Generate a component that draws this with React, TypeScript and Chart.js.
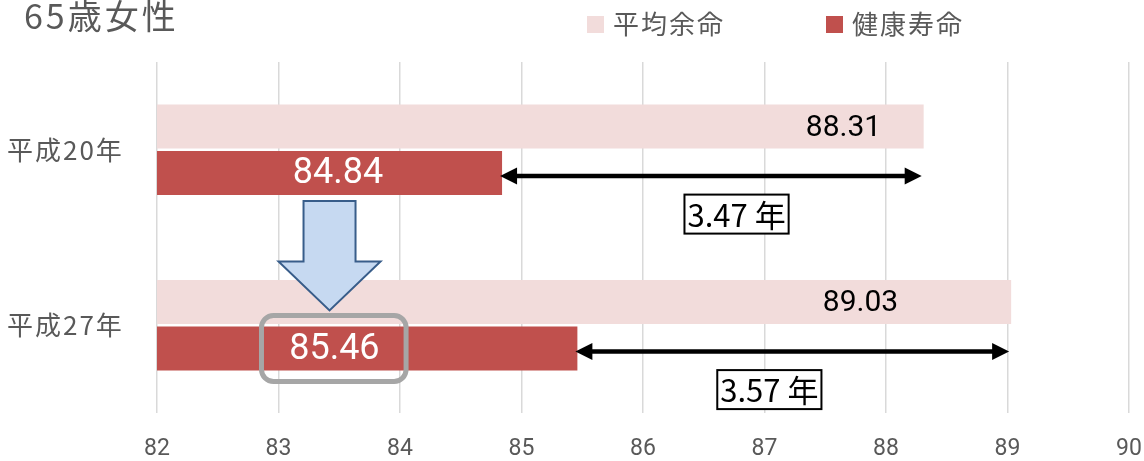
import React, { useEffect, useRef } from 'react';
import { Chart, registerables } from 'chart.js';

Chart.register(...registerables);

const chartTitle = '65歳女性';
const categories = ['平成20年', '平成27年'];
const seriesNames = ['平均余命', '健康寿命'];
const seriesColors = ['#F2DCDB', '#C0504D'];
const lifeExpectancy = [88.31, 89.03];
const healthyLife = [84.84, 85.46];
const gapLabels = ['3.47 年', '3.57 年'];
const xTicks = [82, 83, 84, 85, 86, 87, 88, 89, 90];
// label anchor positions (data units along x)
const lifeLabelX = [87.65, 87.79];
const healthyLabelX = [83.49, 83.46];
const gapLabelX = [86.77, 87.04];
const highlightX = [82.86, 84.05];
const downArrowX = 83.42;

function drawDoubleArrow(ctx: CanvasRenderingContext2D, x1: number, x2: number, y: number) {
  const head = 17;
  const hw = 8.5;
  ctx.save();
  ctx.strokeStyle = '#000';
  ctx.fillStyle = '#000';
  ctx.lineWidth = 4.5;
  ctx.beginPath();
  ctx.moveTo(x1 + head - 2, y);
  ctx.lineTo(x2 - head + 2, y);
  ctx.stroke();
  ctx.beginPath();
  ctx.moveTo(x1, y);
  ctx.lineTo(x1 + head, y - hw);
  ctx.lineTo(x1 + head, y + hw);
  ctx.closePath();
  ctx.fill();
  ctx.beginPath();
  ctx.moveTo(x2, y);
  ctx.lineTo(x2 - head, y - hw);
  ctx.lineTo(x2 - head, y + hw);
  ctx.closePath();
  ctx.fill();
  ctx.restore();
}

const annotPlugin = {
  id: 'annot',
  afterDatasetsDraw(chart: any) {
    const ctx: CanvasRenderingContext2D = chart.ctx;
    const xs = chart.scales.x;
    const ys = chart.scales.y;
    const lightMeta = chart.getDatasetMeta(0);
    const darkMeta = chart.getDatasetMeta(1);

    // title
    ctx.save();
    ctx.fillStyle = '#595959';
    ctx.textBaseline = 'middle';
    ctx.textAlign = 'left';
    ctx.font = '34px "Noto Sans CJK JP"';
    (ctx as any).letterSpacing = '3px';
    ctx.fillText(chartTitle, 24, 16);
    ctx.restore();

    // legend
    const legendX = [587, 826];
    ctx.save();
    ctx.textBaseline = 'middle';
    ctx.textAlign = 'left';
    ctx.font = '26px "Noto Sans CJK JP"';
    (ctx as any).letterSpacing = '2px';
    seriesNames.forEach((name, i) => {
      ctx.fillStyle = seriesColors[i];
      ctx.fillRect(legendX[i], 16, 17, 17);
      ctx.fillStyle = '#595959';
      ctx.fillText(name, legendX[i] + 26, 24);
    });
    ctx.restore();

    // category labels
    ctx.save();
    ctx.textBaseline = 'middle';
    ctx.textAlign = 'left';
    ctx.font = '26px "Noto Sans CJK JP"';
    (ctx as any).letterSpacing = '2px';
    ctx.fillStyle = '#595959';
    categories.forEach((c, i) => {
      ctx.fillText(c, 7, ys.getPixelForValue(i));
    });
    ctx.restore();

    categories.forEach((_, i) => {
      const lightBar = lightMeta.data[i];
      const darkBar = darkMeta.data[i];
      const darkH = darkBar.height;

      // bar value labels
      ctx.save();
      ctx.textAlign = 'center';
      ctx.textBaseline = 'middle';
      ctx.fillStyle = '#000';
      ctx.font = '30px Roboto';
      ctx.fillText(lifeExpectancy[i].toFixed(2), xs.getPixelForValue(lifeLabelX[i]), lightBar.y + 2);
      ctx.fillStyle = '#fff';
      ctx.font = '36px Roboto';
      ctx.fillText(healthyLife[i].toFixed(2), xs.getPixelForValue(healthyLabelX[i]), darkBar.y + 1);
      ctx.restore();

      // double arrow gap
      const ay = darkBar.y + 3;
      drawDoubleArrow(ctx, darkBar.x - 2, xs.getPixelForValue(lifeExpectancy[i]) - 2, ay);

      // gap label box
      ctx.save();
      ctx.font = '31px "Liberation Sans Narrow", "Noto Sans CJK JP"';
      ctx.textAlign = 'center';
      ctx.textBaseline = 'middle';
      const tw = ctx.measureText(gapLabels[i]).width;
      const bw = tw + 6;
      const bh = 39;
      const cx = xs.getPixelForValue(gapLabelX[i]);
      const cy = darkBar.y + darkH / 2 + 19;
      ctx.fillStyle = '#fff';
      ctx.fillRect(cx - bw / 2, cy - bh / 2, bw, bh);
      ctx.strokeStyle = '#000';
      ctx.lineWidth = 2;
      ctx.strokeRect(cx - bw / 2, cy - bh / 2, bw, bh);
      ctx.fillStyle = '#000';
      ctx.fillText(gapLabels[i], cx, cy + 1);
      ctx.restore();
    });

    // big blue down arrow between categories
    const bar0 = darkMeta.data[0];
    const bar1 = darkMeta.data[1];
    const top = bar0.y + bar0.height / 2 + 6;
    const tip = bar1.y - bar1.height / 2 - 16;
    const cx = xs.getPixelForValue(downArrowX);
    const shaftHW = 26;
    const headHW = 51;
    const headBase = tip - 49;
    ctx.save();
    ctx.beginPath();
    ctx.moveTo(cx - shaftHW, top);
    ctx.lineTo(cx + shaftHW, top);
    ctx.lineTo(cx + shaftHW, headBase);
    ctx.lineTo(cx + headHW, headBase);
    ctx.lineTo(cx, tip);
    ctx.lineTo(cx - headHW, headBase);
    ctx.lineTo(cx - shaftHW, headBase);
    ctx.closePath();
    ctx.fillStyle = '#C6D9F1';
    ctx.fill();
    ctx.strokeStyle = '#385D8A';
    ctx.lineWidth = 2;
    ctx.stroke();
    ctx.restore();

    // highlight rounded box around the 2nd healthy label
    const hx1 = xs.getPixelForValue(highlightX[0]);
    const hx2 = xs.getPixelForValue(highlightX[1]);
    const hy1 = bar1.y - bar1.height / 2 - 11;
    const hy2 = bar1.y + bar1.height / 2 + 11;
    ctx.save();
    ctx.strokeStyle = '#A6A6A6';
    ctx.lineWidth = 5;
    ctx.beginPath();
    (ctx as any).roundRect(hx1, hy1, hx2 - hx1, hy2 - hy1, 12);
    ctx.stroke();
    ctx.restore();
  },
};

export default function App() {
  const ref = useRef<HTMLCanvasElement>(null);
  useEffect(() => {
    document.body.style.margin = '0';
    const chart = new Chart(ref.current!, {
      type: 'bar',
      data: {
        labels: categories,
        datasets: [
          {
            label: seriesNames[0],
            data: lifeExpectancy,
            backgroundColor: seriesColors[0],
            categoryPercentage: 0.53,
            barPercentage: 0.95,
          },
          {
            label: seriesNames[1],
            data: healthyLife,
            backgroundColor: seriesColors[1],
            categoryPercentage: 0.53,
            barPercentage: 0.95,
          },
        ],
      },
      options: {
        indexAxis: 'y',
        responsive: false,
        animation: false,
        layout: { padding: { top: 62, right: 15, left: 0, bottom: 0 } },
        plugins: {
          legend: { display: false },
          title: { display: false },
          tooltip: { enabled: false },
        },
        scales: {
          x: {
            min: 82,
            max: 90,
            afterBuildTicks: (s: any) => {
              s.ticks = xTicks.map((v) => ({ value: v }));
            },
            ticks: {
              color: '#595959',
              font: { family: 'Roboto', size: 23 },
              padding: 22,
              maxRotation: 0,
            },
            grid: { color: '#D9D9D9', lineWidth: 1.5, drawTicks: false },
            border: { display: false },
            afterFit: (s: any) => {
              s.height = 48;
              s.paddingLeft = 0;
              s.paddingRight = 0;
            },
          },
          y: {
            ticks: { display: false },
            grid: { display: false, drawTicks: false },
            border: { display: false },
            afterFit: (s: any) => {
              s.width = 157;
            },
          },
        },
      } as any,
      plugins: [annotPlugin],
    });
    return () => chart.destroy();
  }, []);
  return <canvas ref={ref} width={1144} height={461} style={{ display: 'block' }} />;
}
